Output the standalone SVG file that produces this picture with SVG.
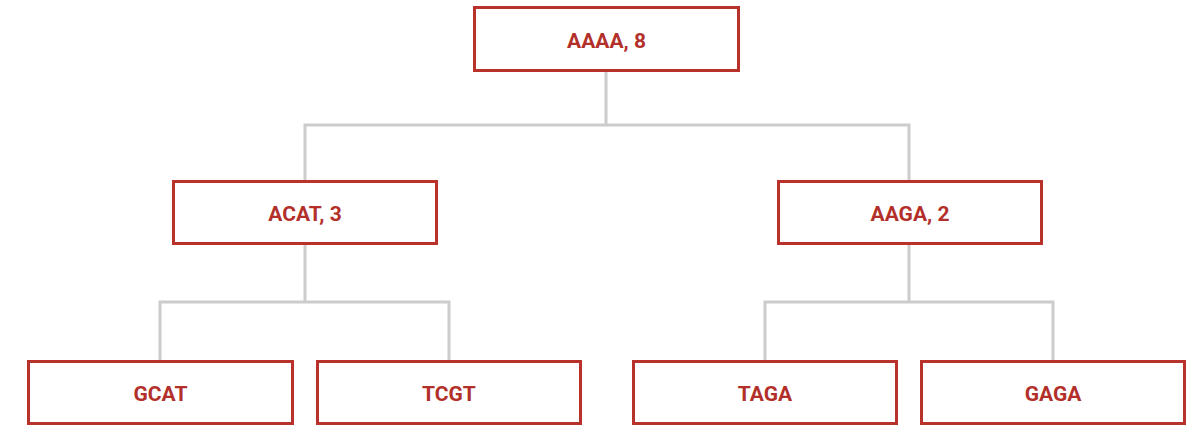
<svg xmlns="http://www.w3.org/2000/svg" width="1193" height="436" viewBox="0 0 1193 436">
<style>
.box{fill:#fff;stroke:#b8312a;stroke-width:3}
.lbl{font-family:Roboto,"Liberation Sans",sans-serif;font-weight:bold;font-size:21px;fill:#b3302a;text-anchor:middle}
.conn{fill:none;stroke:#cccccc;stroke-width:3}
</style>
<rect width="1193" height="436" fill="#fff"/>
<g id="connectors">
<path class="conn" d="M606 71V125M305 181V125H909V181"/>
<path class="conn" d="M305 244V302M160 361V302H449V361"/>
<path class="conn" d="M909 244V302M765 361V302H1053V361"/>
</g>
<g id="n-aaaa"><rect class="box" x="474.5" y="7.5" width="264" height="63"/><text class="lbl" x="606.5" y="47.5">AAAA, 8</text></g>
<g id="n-acat"><rect class="box" x="173.5" y="181.5" width="263" height="62"/><text class="lbl" x="305" y="220.5">ACAT, 3</text></g>
<g id="n-aaga"><rect class="box" x="778.5" y="181.5" width="263" height="62"/><text class="lbl" x="910" y="220.5">AAGA, 2</text></g>
<g id="n-gcat"><rect class="box" x="28.5" y="361.5" width="264" height="62"/><text class="lbl" x="160.5" y="400.5">GCAT</text></g>
<g id="n-tcgt"><rect class="box" x="317.5" y="361.5" width="263" height="62"/><text class="lbl" x="449" y="400.5">TCGT</text></g>
<g id="n-taga"><rect class="box" x="633.5" y="361.5" width="263" height="62"/><text class="lbl" x="765" y="400.5">TAGA</text></g>
<g id="n-gaga"><rect class="box" x="921.5" y="361.5" width="263" height="62"/><text class="lbl" x="1053" y="400.5">GAGA</text></g>
</svg>
